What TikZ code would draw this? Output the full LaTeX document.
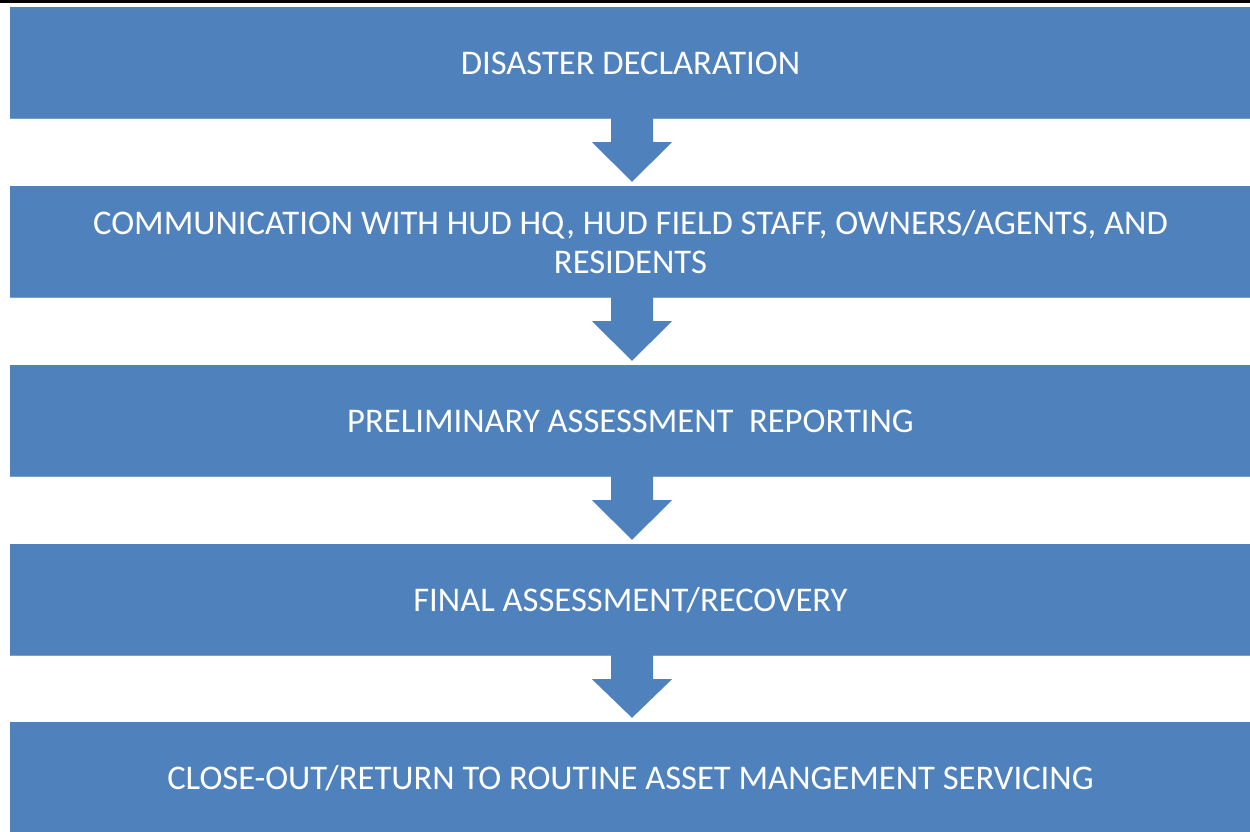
\documentclass[tikz,border=0pt]{standalone}
\usepackage{fontspec}
\setmainfont{Carlito}
\usetikzlibrary{calc}
\definecolor{boxblue}{RGB}{79,129,189}
\definecolor{edgeblue}{RGB}{122,159,206}
\begin{document}
\begin{tikzpicture}[x=1pt,y=-1pt,
  stepbox/.style={rectangle, fill=boxblue, minimum width=1241pt, minimum height=112pt,
    inner sep=0pt, text=white, font=\fontsize{34.6}{39}\selectfont, align=center},
  flowarrow/.style={fill=boxblue},
  boxedge/.style={draw=edgeblue, line width=1.5pt}]
\useasboundingbox (0,0) rectangle (1250,831);
\fill[black] (0,0) rectangle (1250,2.5);
\node[stepbox] (b1) at (630.5,63) {DISASTER DECLARATION};
\node[stepbox] (b2) at (630.5,242) {COMMUNICATION WITH HUD HQ, HUD FIELD STAFF, OWNERS/AGENTS, AND\\RESIDENTS};
\node[stepbox] (b3) at (630.5,421) {PRELIMINARY ASSESSMENT\ \ REPORTING};
\node[stepbox] (b4) at (630.5,600) {FINAL ASSESSMENT/RECOVERY};
\node[stepbox] (b5) at (630.5,778) {CLOSE-OUT/RETURN TO ROUTINE ASSET MANGEMENT SERVICING};
\foreach \a in {b1,b2,b3,b4} {
  \draw[boxedge] ($(\a.south west)+(0,-0.75)$) -- ($(\a.south east)+(0,-0.75)$);
}
\foreach \a/\b in {b1/b2,b2/b3,b3/b4,b4/b5} {
  \fill[flowarrow] ($(\a.south)+(-19.5,-1)$) -- ($(\a.south)+(22.5,-1)$) -- ($(\a.south)+(22.5,23)$)
    -- ($(\a.south)+(41.5,23)$) -- ($(\b.north)+(1.5,-4)$) -- ($(\a.south)+(-38.5,23)$)
    -- ($(\a.south)+(-19.5,23)$) -- cycle;
}
\end{tikzpicture}
\end{document}
